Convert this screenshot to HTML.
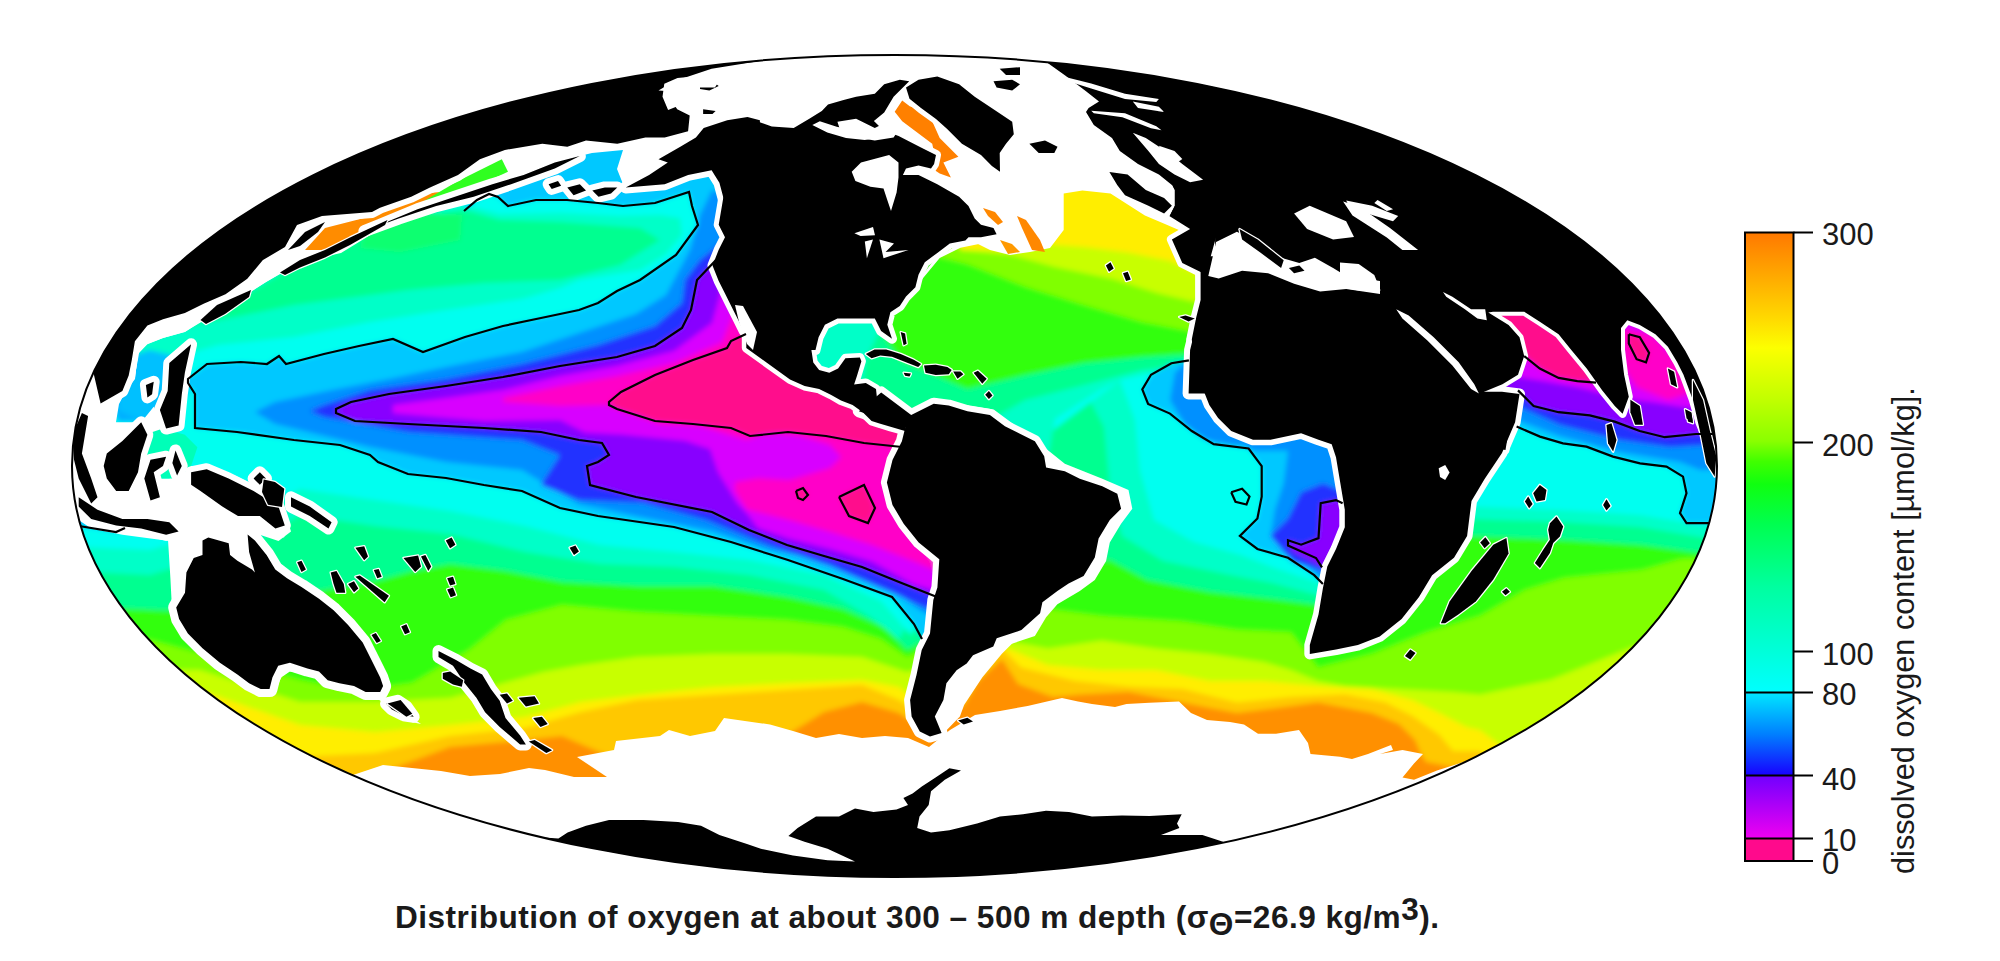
<!DOCTYPE html>
<html><head><meta charset="utf-8"><style>html,body{margin:0;padding:0;background:#fff;width:2000px;height:961px;overflow:hidden;position:relative}</style></head>
<body>
<svg width="2000" height="961" viewBox="0 0 2000 961" style="position:absolute;left:0;top:0">
<defs><clipPath id="ell"><ellipse cx="894.5" cy="466" rx="822.5" ry="411"/></clipPath>
<filter id="bl" x="-5%" y="-5%" width="110%" height="110%"><feGaussianBlur stdDeviation="2.5"/></filter></defs>
<g clip-path="url(#ell)">
<g filter="url(#bl)">
<ellipse cx="894.5" cy="466" rx="842.5" ry="431" fill="#ff9000"/>
<path fill="#ffc800" d="M40.0 790.0 L300.0 790.0 L375.0 775.0 L450.0 747.0 L525.0 740.0 L562.0 736.0 L618.0 760.0 L675.0 748.0 L731.0 742.0 L787.0 735.0 L824.0 712.0 L862.0 702.0 L899.0 713.0 L918.0 725.0 L964.0 705.0 L978.0 681.0 L1002.0 659.0 L1018.0 684.0 L1053.0 697.0 L1080.0 694.5 L1129.0 692.0 L1183.0 702.6 L1210.0 708.0 L1237.0 713.0 L1277.5 708.0 L1318.0 702.6 L1372.0 713.0 L1399.0 724.0 L1415.0 740.0 L1421.0 754.0 L1426.0 762.0 L1453.0 767.0 L1480.0 762.0 L1520.0 790.0 L1760.0 795.0 L1760.0 20.0 L40.0 20.0 Z"/>
<path fill="#ffee00" d="M40.0 740.0 L300.0 757.0 L375.0 753.0 L450.0 736.0 L525.0 728.0 L581.0 712.0 L637.0 700.0 L712.0 695.0 L787.0 690.0 L862.0 685.0 L899.0 700.0 L918.0 713.0 L980.5 654.0 L1002.0 648.6 L1021.0 667.5 L1075.0 681.0 L1129.0 686.4 L1183.0 689.0 L1237.0 702.6 L1291.0 697.0 L1345.0 694.5 L1385.5 702.6 L1412.5 716.0 L1439.5 735.0 L1453.0 751.0 L1480.0 751.0 L1520.0 790.0 L1760.0 795.0 L1760.0 20.0 L40.0 20.0 Z"/>
<path fill="#c8ff00" d="M40.0 690.0 L200.0 690.0 L300.0 725.0 L375.0 732.0 L450.0 725.0 L525.0 717.0 L581.0 702.0 L637.0 695.0 L712.0 687.0 L787.0 683.0 L862.0 680.0 L899.0 687.0 L918.0 702.0 L1002.0 646.0 L1048.0 665.0 L1102.0 670.0 L1156.0 670.0 L1210.0 681.0 L1264.0 681.0 L1318.0 686.0 L1372.0 689.0 L1412.5 700.0 L1439.5 713.0 L1466.5 727.0 L1480.0 730.0 L1520.0 760.0 L1760.0 760.0 L1760.0 20.0 L40.0 20.0 Z"/>
<path fill="#80ff00" d="M40.0 670.0 L200.0 670.0 L300.0 702.0 L375.0 702.0 L450.0 698.0 L543.0 672.0 L581.0 665.0 L637.0 657.0 L712.0 654.0 L787.0 654.0 L862.0 657.0 L907.0 672.0 L1005.0 640.5 L1048.0 648.6 L1102.0 640.5 L1156.0 648.6 L1210.0 654.0 L1264.0 662.0 L1291.0 670.0 L1318.0 681.0 L1345.0 686.0 L1399.0 689.0 L1453.0 692.0 L1480.0 694.5 L1550.0 680.0 L1650.0 640.0 L1760.0 590.0 L1760.0 20.0 L40.0 20.0 Z"/>
<path fill="#30ff10" d="M40.0 625.0 L150.0 640.0 L300.0 680.0 L356.0 691.0 L412.0 683.0 L469.0 650.0 L506.0 620.0 L562.0 605.0 L637.0 612.0 L712.0 616.0 L787.0 620.0 L843.0 627.0 L881.0 639.0 L907.0 657.0 L1021.0 605.4 L1102.0 616.0 L1183.0 621.6 L1237.0 629.7 L1291.0 632.4 L1318.0 667.5 L1372.0 654.0 L1426.0 632.4 L1480.0 616.0 L1525.0 590.0 L1564.0 578.0 L1642.0 570.0 L1681.0 559.0 L1760.0 555.0 L1760.0 20.0 L40.0 20.0 Z"/>
<path fill="#00ff90" d="M40.0 605.0 L200.0 612.0 L380.0 580.0 L412.0 571.0 L450.0 564.0 L506.0 571.0 L562.0 582.0 L637.0 586.0 L712.0 586.0 L787.0 597.0 L843.0 609.0 L884.0 627.0 L907.0 650.0 L1000.0 600.0 L1060.0 560.0 L1110.0 560.0 L1147.0 580.0 L1210.0 592.0 L1272.0 599.0 L1319.0 605.0 L1440.0 535.0 L1564.0 540.0 L1642.0 545.0 L1700.0 553.0 L1760.0 553.0 L1760.0 20.0 L40.0 20.0 Z"/>
<path fill="#00ffc8" d="M40.0 570.0 L150.0 575.0 L250.0 545.0 L300.0 515.0 L375.0 526.0 L450.0 534.0 L525.0 552.0 L600.0 564.0 L675.0 567.0 L749.0 575.0 L824.0 590.0 L869.0 616.0 L899.0 639.0 L1000.0 470.0 L1079.0 380.0 L1104.0 427.0 L1110.0 489.0 L1122.0 536.0 L1163.0 561.0 L1225.0 574.0 L1272.0 583.0 L1319.0 595.5 L1440.0 518.0 L1560.0 522.0 L1640.0 527.0 L1700.0 537.0 L1760.0 540.0 L1760.0 20.0 L40.0 20.0 Z"/>
<path fill="#00fff0" d="M40.0 545.0 L150.0 550.0 L250.0 520.0 L300.0 489.0 L375.0 500.0 L450.0 511.0 L525.0 526.0 L600.0 545.0 L675.0 552.0 L749.0 560.0 L824.0 575.0 L881.0 601.0 L911.0 635.0 L1000.0 470.0 L1120.0 380.0 L1135.0 420.0 L1140.0 470.0 L1154.0 520.0 L1194.0 542.0 L1241.0 555.0 L1272.0 567.0 L1319.0 583.0 L1440.0 505.0 L1560.0 510.0 L1640.0 515.0 L1700.0 525.0 L1760.0 528.0 L1760.0 20.0 L40.0 20.0 Z"/>
<path fill="#00ffc8" d="M130.0 350.0 L160.0 330.0 L200.0 312.0 L250.0 288.0 L300.0 258.0 L350.0 240.0 L400.0 215.0 L464.0 205.0 L500.0 214.0 L560.0 213.0 L620.0 216.0 L660.0 215.0 L680.0 218.0 L682.0 235.0 L665.0 255.0 L640.0 270.0 L579.0 280.0 L560.0 288.0 L522.0 299.0 L446.0 310.0 L370.0 322.0 L294.0 337.0 L218.0 345.0 L180.0 356.0 L140.0 375.0 Z"/>
<path fill="#00ff90" d="M200.0 320.0 L250.0 292.0 L300.0 262.0 L350.0 243.0 L400.0 220.0 L464.0 210.0 L500.0 220.0 L560.0 222.0 L640.0 228.0 L660.0 240.0 L620.0 265.0 L560.0 280.0 L484.0 283.0 L408.0 290.0 L294.0 305.0 L180.0 328.0 Z"/>
<path fill="#10ff70" d="M366.0 225.0 L420.0 212.0 L462.0 215.0 L460.0 240.0 L400.0 252.0 L360.0 248.0 Z"/>
<path fill="#00ffc8" d="M1240.0 340.0 L1171.0 369.0 L1142.0 375.0 L1120.0 380.0 L1100.0 390.0 L1055.0 419.0 L1046.0 470.0 L1030.0 490.0 L980.0 480.0 L900.0 440.0 L860.0 400.0 L800.0 350.0 L790.0 300.0 L900.0 150.0 L1240.0 150.0 Z"/>
<path fill="#00ff90" d="M1240.0 340.0 L1186.0 365.0 L1142.0 370.0 L1084.0 385.0 L1025.0 400.0 L990.0 420.0 L960.0 450.0 L900.0 440.0 L860.0 400.0 L866.0 360.0 L880.0 330.0 L880.0 300.0 L870.0 250.0 L900.0 150.0 L1240.0 150.0 Z"/>
<path fill="#30ff10" d="M1240.0 340.0 L1186.0 354.0 L1142.0 357.0 L1084.0 363.0 L1026.0 375.0 L967.0 389.0 L900.0 360.0 L880.0 330.0 L880.0 300.0 L870.0 250.0 L900.0 150.0 L1240.0 150.0 Z"/>
<path fill="#80ff00" d="M1240.0 331.0 L1189.0 331.0 L1142.0 322.0 L1084.0 305.0 L1026.0 287.0 L967.0 264.0 L930.0 255.0 L900.0 150.0 L1240.0 150.0 Z"/>
<path fill="#c8ff00" d="M1240.0 302.0 L1195.0 302.0 L1157.0 293.0 L1113.0 279.0 L1055.0 267.0 L1011.0 255.0 L960.0 250.0 L960.0 150.0 L1240.0 150.0 Z"/>
<path fill="#ffee00" d="M1240.0 276.0 L1200.0 276.0 L1171.0 261.0 L1128.0 252.5 L1084.0 247.0 L1043.0 244.0 L1000.0 250.0 L960.0 250.0 L960.0 150.0 L1240.0 150.0 Z"/>
<path fill="#00c8ff" d="M188.0 379.0 L207.0 364.0 L241.0 362.0 L267.0 364.0 L279.0 356.0 L286.0 364.0 L324.0 354.0 L359.0 346.0 L393.0 339.0 L423.0 352.0 L465.0 337.0 L503.0 326.0 L541.0 318.0 L579.0 310.0 L598.0 303.0 L617.0 291.0 L640.0 280.0 L676.0 255.0 L698.0 225.0 L692.0 206.0 L689.0 192.0 L655.0 203.0 L623.0 206.0 L598.0 203.0 L567.0 200.0 L536.0 200.0 L508.0 206.0 L498.0 197.0 L489.0 194.0 L477.0 200.0 L464.0 211.0 L470.0 185.0 L560.0 150.0 L720.0 140.0 L740.0 200.0 L740.0 300.0 L790.0 360.0 L860.0 400.0 L910.0 420.0 L920.0 470.0 L910.0 520.0 L935.0 560.0 L950.0 640.0 L922.0 639.0 L914.0 624.0 L892.0 597.0 L843.0 579.0 L788.0 560.0 L769.0 554.0 L731.0 542.0 L674.0 527.0 L598.0 516.0 L560.0 508.0 L522.0 491.0 L484.0 485.0 L446.0 478.0 L408.0 474.0 L378.0 462.0 L370.0 455.0 L340.0 445.0 L294.0 440.0 L237.0 432.0 L195.0 428.0 L195.0 394.0 L188.0 383.0 Z"/>
<path fill="#00c8ff" d="M1188.9 360.3 L1171.4 363.2 L1151.0 374.8 L1142.3 389.4 L1148.1 404.0 L1170.0 413.6 L1191.8 431.0 L1213.7 444.2 L1248.6 448.5 L1261.7 466.0 L1261.7 496.6 L1257.4 518.5 L1239.9 535.9 L1257.4 549.0 L1288.0 557.8 L1314.2 575.2 L1322.9 584.0 L1350.0 584.0 L1350.0 340.0 L1200.0 340.0 Z"/>
<path fill="#00c8ff" d="M1516.6 426.6 L1540.0 436.6 L1563.0 443.3 L1586.5 446.6 L1613.0 456.6 L1640.0 463.3 L1666.5 466.6 L1683.0 476.6 L1686.5 493.2 L1680.0 513.2 L1686.5 523.2 L1706.4 523.2 L1730.0 523.0 L1730.0 250.0 L1480.0 250.0 L1480.0 440.0 Z"/>
<path fill="#00c8ff" d="M40.0 480.0 L100.0 495.0 L125.0 500.0 L125.0 528.0 L116.0 532.0 L79.0 526.0 L40.0 526.0 Z"/>
<path fill="#00b0ff" d="M116.0 378.0 L135.0 372.0 L150.0 385.0 L154.0 410.0 L145.0 422.0 L118.0 422.0 L110.0 400.0 Z"/>
<path fill="#00c0ff" d="M118.0 360.0 L150.0 350.0 L175.0 356.0 L190.0 378.0 L188.0 395.0 L170.0 410.0 L140.0 420.0 L118.0 410.0 Z"/>
<path fill="#0090ff" d="M255.0 412.0 L275.0 402.0 L332.0 390.0 L389.0 379.0 L446.0 367.0 L522.0 352.0 L579.0 333.0 L636.0 314.0 L666.0 295.0 L674.0 280.0 L690.0 250.0 L700.0 215.0 L712.0 190.0 L740.0 200.0 L740.0 300.0 L790.0 360.0 L860.0 400.0 L910.0 420.0 L920.0 470.0 L910.0 520.0 L935.0 560.0 L950.0 640.0 L937.0 620.0 L918.0 609.0 L881.0 582.0 L824.0 560.0 L769.0 550.0 L712.0 531.0 L636.0 516.0 L579.0 504.0 L560.0 493.0 L522.0 470.0 L446.0 462.0 L370.0 447.0 L275.0 424.0 Z"/>
<path fill="#0090ff" d="M1178.7 365.5 L1191.8 387.4 L1200.6 413.6 L1222.4 435.4 L1253.0 450.7 L1288.0 450.7 L1283.6 483.5 L1274.9 509.7 L1270.5 535.9 L1292.3 553.4 L1322.9 579.6 L1366.6 579.6 L1366.6 431.1 L1301.1 422.3 L1235.5 422.3 L1213.7 365.5 Z"/>
<path fill="#0090ff" d="M1190.0 362.0 L1175.0 372.0 L1170.0 400.0 L1185.0 425.0 L1205.0 440.0 L1240.0 447.0 L1240.0 360.0 Z"/>
<path fill="#0090ff" d="M1512.0 418.0 L1560.0 436.0 L1620.0 452.0 L1680.0 462.0 L1700.0 470.0 L1730.0 470.0 L1730.0 250.0 L1480.0 250.0 L1480.0 430.0 Z"/>
<path fill="#0090ff" d="M40.0 495.0 L110.0 505.0 L116.0 522.0 L79.0 520.0 L40.0 520.0 Z"/>
<path fill="#2030ff" d="M310.0 411.0 L324.0 405.0 L370.0 390.0 L446.0 379.0 L522.0 364.0 L598.0 345.0 L655.0 326.0 L682.0 303.0 L685.0 280.0 L700.0 260.0 L725.0 240.0 L740.0 300.0 L790.0 360.0 L860.0 400.0 L910.0 420.0 L920.0 470.0 L910.0 520.0 L935.0 560.0 L950.0 640.0 L945.0 615.0 L924.0 607.0 L893.0 593.0 L830.0 566.0 L768.0 545.0 L706.0 520.0 L643.0 503.0 L579.0 500.0 L541.0 485.0 L560.0 455.0 L522.0 440.0 L408.0 432.0 L324.0 417.0 Z"/>
<path fill="#2030ff" d="M1270.5 535.9 L1288.0 518.4 L1301.1 492.2 L1322.9 483.5 L1344.8 492.2 L1366.6 492.2 L1366.6 579.6 L1322.9 570.9 L1292.3 562.1 Z"/>
<path fill="#2030ff" d="M1515.0 405.0 L1560.0 425.0 L1620.0 440.0 L1670.0 447.0 L1705.0 445.0 L1730.0 445.0 L1730.0 250.0 L1480.0 250.0 L1480.0 420.0 Z"/>
<path fill="#8800ff" d="M336.0 409.0 L351.0 402.0 L389.0 394.0 L446.0 386.0 L503.0 377.0 L560.0 366.0 L617.0 357.0 L655.0 346.0 L682.0 328.0 L691.0 310.0 L697.0 280.0 L716.0 260.0 L740.0 260.0 L790.0 360.0 L860.0 400.0 L910.0 420.0 L920.0 470.0 L910.0 520.0 L935.0 560.0 L950.0 640.0 L937.0 597.0 L899.0 582.0 L862.0 567.0 L824.0 556.0 L787.0 545.0 L749.0 530.0 L712.0 512.0 L636.0 497.0 L590.0 485.0 L587.0 466.0 L598.0 462.0 L609.0 455.0 L602.0 443.0 L579.0 440.0 L541.0 432.0 L484.0 428.0 L408.0 424.0 L355.0 421.0 L336.0 413.0 Z"/>
<path fill="#8800ff" d="M1342.6 503.2 L1336.0 500.1 L1320.7 503.2 L1318.5 538.1 L1301.1 544.7 L1288.0 540.3 L1292.3 551.2 L1309.8 560.0 L1327.3 568.7 L1366.6 568.7 L1366.6 503.2 Z"/>
<path fill="#8800ff" d="M1518.0 390.4 L1533.6 406.0 L1558.5 412.2 L1589.8 415.4 L1614.7 421.6 L1639.7 431.0 L1664.7 437.2 L1696.0 434.0 L1730.0 434.0 L1730.0 250.0 L1480.0 250.0 L1480.0 400.0 Z"/>
<path fill="#d800ff" d="M393.0 405.0 L446.0 398.0 L503.0 390.0 L560.0 376.0 L617.0 366.0 L674.0 351.0 L712.0 323.0 L720.0 295.0 L725.0 270.0 L740.0 280.0 L790.0 360.0 L860.0 400.0 L910.0 420.0 L920.0 470.0 L910.0 520.0 L935.0 560.0 L950.0 640.0 L940.0 592.0 L934.6 590.6 L913.8 584.4 L872.0 561.5 L830.5 549.0 L789.0 538.6 L758.0 528.0 L747.0 513.6 L737.0 503.0 L718.0 472.0 L710.0 449.0 L685.0 440.8 L622.0 434.6 L585.0 432.5 L560.0 420.0 L484.0 421.0 L393.0 413.0 Z"/>
<path fill="#d800ff" d="M1505.0 375.0 L1543.0 381.0 L1577.0 387.0 L1605.0 394.0 L1637.0 400.0 L1652.0 402.0 L1683.0 407.0 L1730.0 407.0 L1730.0 250.0 L1480.0 250.0 L1480.0 385.0 Z"/>
<path fill="#ff00c8" d="M503.0 398.0 L560.0 386.0 L617.0 376.0 L674.0 363.0 L722.0 342.0 L731.0 319.0 L735.0 300.0 L790.0 360.0 L860.0 400.0 L910.0 420.0 L920.0 470.0 L910.0 520.0 L935.0 560.0 L950.0 640.0 L937.0 575.0 L934.6 570.0 L913.8 561.5 L872.0 545.0 L830.5 532.0 L789.0 520.0 L747.0 509.5 L735.0 491.0 L735.0 482.0 L758.0 478.0 L789.0 480.0 L830.0 468.0 L841.0 457.0 L830.0 445.0 L800.0 436.0 L768.0 432.0 L747.0 440.0 L700.0 426.0 L660.0 424.0 L609.0 405.0 L560.0 406.0 L503.0 402.0 Z"/>
<path fill="#ff0a8c" d="M609.0 402.0 L621.0 392.0 L655.0 375.0 L693.0 360.0 L727.0 348.0 L731.0 341.0 L746.0 334.0 L790.0 360.0 L860.0 400.0 L910.0 420.0 L915.0 450.0 L902.0 447.0 L864.0 443.0 L826.0 436.0 L788.0 432.0 L750.0 436.0 L731.0 428.0 L693.0 424.0 L655.0 421.0 L617.0 409.0 L609.0 405.0 Z"/>
<path fill="#ff0a8c" d="M796.0 491.0 L803.0 488.0 L808.0 495.0 L803.0 500.0 L798.0 498.0 Z"/>
<path fill="#ff0a8c" d="M839.0 497.0 L864.0 485.0 L875.0 508.0 L868.0 523.0 L849.0 516.0 Z"/>
<path fill="#ff00c8" d="M1621.0 328.0 L1652.2 334.2 L1677.2 362.3 L1689.7 393.5 L1667.9 399.8 L1636.6 387.3 L1624.1 368.6 Z"/>
<path fill="#ff0a8c" d="M1489.9 312.4 L1524.2 311.7 L1539.8 321.7 L1558.6 334.2 L1571.1 349.8 L1586.7 368.6 L1599.2 387.3 L1596.0 382.6 L1577.3 381.1 L1558.6 377.9 L1539.8 368.6 L1524.2 356.1 L1514.9 349.8 L1508.6 331.1 Z"/>
<path fill="#ff0a8c" d="M1628.8 334.2 L1639.8 337.3 L1649.1 353.0 L1646.0 362.3 L1636.6 359.2 L1628.8 343.6 Z"/>
</g>
<g fill="#fff"><path d="M72.5 378.6 L91.2 375.5 L100.6 403.6 L116.2 422.3 L141.2 422.3 L153.7 406.7 L163.0 428.6 L150.5 447.3 L144.3 459.8 L153.7 478.5 L169.3 478.5 L191.1 466.0 L206.7 466.0 L234.8 475.4 L259.8 487.9 L284.8 509.8 L291.0 531.6 L278.5 541.0 L259.8 534.7 L216.1 537.9 L169.3 541.0 L122.4 534.7 L91.2 528.5 L72.5 516.0 Z"/>
<path d="M100.6 403.6 L122.4 391.1 L134.9 378.6 L138.0 353.7 L147.4 344.3 L163.0 338.0 L184.9 331.8 L200.5 322.4 L225.5 306.8 L247.3 294.3 L266.0 281.9 L287.9 269.4 L309.8 260.0 L309.8 166.3 L60.0 166.3 L60.0 384.9 Z"/>
<path d="M907.5 413.1 L933.7 398.1 L967.4 405.6 L993.7 409.4 L1008.6 420.6 L1046.1 448.7 L1064.8 463.7 L1102.3 478.7 L1128.5 489.9 L1132.3 508.7 L1121.1 523.7 L1109.8 542.4 L1106.1 561.1 L1094.8 579.9 L1079.8 591.1 L1057.4 604.2 L1046.1 617.3 L1034.9 636.1 L1001.1 647.3 L997.0 646.6 L1021.4 630.1 L1040.1 613.2 L1042.4 602.3 L1057.4 591.1 L1068.6 583.6 L1083.6 576.1 L1094.8 557.4 L1098.6 538.6 L1109.8 519.9 L1121.1 508.7 L1117.3 493.7 L1102.3 486.2 L1079.8 478.7 L1064.8 471.2 L1046.1 467.4 L1034.9 441.2 L1004.9 426.2 L967.4 411.2 L933.7 403.7 L911.2 415.0 Z"/>
<path d="M1057.4 594.8 L1055.9 600.1 L1021.0 634.9 L1001.9 653.7 L982.4 677.3 L964.1 705.0 L959.9 716.6 L946.8 730.1 L938.2 738.4 L926.2 737.2 L937.4 718.5 L944.9 684.8 L963.7 662.3 L993.7 639.8 L1040.1 613.2 Z"/>
<path d="M167.5 531.7 L193.7 525.8 L246.2 525.8 L287.0 528.7 L284.0 537.5 L260.7 531.7 L260.7 566.6 L237.4 560.8 L202.5 555.0 L187.9 572.5 L185.0 592.8 L176.2 607.4 L179.1 619.1 L171.9 607.4 L170.4 578.3 Z"/>
<path d="M180.6 627.8 L193.7 639.5 L219.9 657.0 L246.2 674.4 L263.6 693.4 L275.3 691.9 L281.1 677.4 L289.9 671.5 L319.0 675.9 L336.5 686.1 L359.8 694.8 L383.1 696.3 L400.6 709.4 L421.0 724.0 L406.4 721.1 L388.9 706.5 L371.5 694.8 L354.0 689.0 L324.8 681.7 L289.9 665.7 L275.3 665.7 L269.5 690.5 L257.8 693.4 L237.4 678.8 L202.5 654.0 Z"/>
<path d="M340.0 780.0 L350.0 776.0 L383.0 765.0 L412.0 768.0 L441.0 771.0 L470.0 776.0 L500.0 774.0 L529.0 768.0 L545.0 770.0 L574.0 777.0 L607.0 777.0 L577.0 757.0 L614.0 750.0 L616.0 741.0 L660.0 736.0 L669.0 730.0 L690.0 736.0 L715.0 731.0 L724.0 718.0 L770.0 724.5 L793.0 731.0 L816.0 738.0 L839.0 734.0 L862.0 738.0 L885.0 736.0 L908.0 738.0 L929.0 747.0 L950.0 730.0 L975.0 715.0 L1000.0 711.0 L1027.6 706.0 L1062.0 698.0 L1078.0 701.5 L1092.0 704.0 L1115.0 707.0 L1126.5 704.0 L1149.5 702.7 L1179.0 701.5 L1191.0 713.0 L1207.0 720.0 L1230.0 722.0 L1244.0 724.5 L1258.0 733.7 L1276.0 733.7 L1299.0 730.0 L1308.0 743.0 L1310.5 754.0 L1340.0 756.7 L1352.0 759.0 L1368.0 754.0 L1391.0 745.0 L1393.0 750.0 L1380.0 754.0 L1402.5 750.0 L1423.0 754.0 L1414.0 763.6 L1402.5 777.4 L1414.0 779.7 L1437.0 770.5 L1470.0 760.0 L1470.0 950.0 L340.0 950.0 Z"/>
<path d="M898.0 306.0 L919.0 283.0 L939.7 258.0 L960.5 247.8 L981.3 243.6 L1010.0 250.0 L1015.0 235.0 L996.0 229.0 L971.0 237.0 L935.6 258.0 L914.8 285.0 L890.0 306.0 Z"/>
<path d="M560.0 40.0 L1300.0 40.0 L1300.0 200.0 L1188.6 234.2 L1166.7 224.8 L1144.9 215.5 L1110.5 193.6 L1082.4 190.5 L1063.7 193.6 L1063.7 230.0 L1050.0 248.0 L1030.0 252.0 L1010.0 255.0 L990.0 250.0 L970.0 240.0 L950.0 235.0 L920.0 225.0 L860.0 200.0 L730.0 150.0 L700.0 165.0 L660.0 150.0 L620.0 145.0 L560.0 140.0 Z"/>
<path d="M72.0 440.0 L116.0 422.0 L119.0 404.0 L126.0 391.0 L135.0 379.0 L138.0 354.0 L147.0 344.0 L163.0 338.0 L185.0 332.0 L200.0 322.0 L225.0 307.0 L247.0 294.0 L266.0 282.0 L288.0 269.0 L310.0 260.0 L341.0 253.0 L372.0 234.0 L380.0 225.0 L424.0 212.0 L467.0 197.0 L483.0 187.0 L517.0 175.0 L555.0 162.0 L592.0 153.0 L623.0 150.0 L617.0 169.0 L623.0 184.0 L617.0 192.0 L655.0 187.0 L680.0 181.0 L700.0 175.0 L720.0 170.0 L720.0 40.0 L60.0 40.0 Z"/></g>
<g fill="#fff"><path fill="#00ffb8" d="M144.3 434.8 L163.0 428.6 L184.9 434.8 L197.4 447.3 L191.1 466.0 L178.6 478.5 L153.7 478.5 L144.3 459.8 Z"/>
<path fill="#ff8800" d="M983.0 208.0 L995.0 212.0 L1003.0 222.0 L998.0 225.0 L988.0 216.0 Z"/>
<path fill="#ff8800" d="M1017.0 216.0 L1026.0 220.0 L1040.0 240.0 L1045.0 252.0 L1032.0 250.0 L1022.0 228.0 Z"/>
<path fill="#ff9900" d="M1000.0 240.0 L1012.0 244.0 L1020.0 252.0 L1008.0 254.0 Z"/>
<path fill="#ff8c00" d="M305.0 250.0 L325.0 228.0 L372.0 216.0 L430.0 193.0 L440.0 192.0 L420.0 206.0 L385.0 222.0 L341.0 250.0 Z"/>
<path fill="#30ff20" d="M420.6 203.0 L458.0 181.1 L501.8 159.3 L508.0 171.8 L473.7 187.4 L442.4 199.9 Z"/>
<path fill="#ff8000" d="M894.7 111.8 L902.2 100.6 L909.7 106.2 L921.0 109.9 L932.2 121.2 L939.7 138.0 L958.4 156.8 L943.4 162.4 L950.9 177.4 L939.7 173.6 L928.4 166.1 L935.9 160.5 L932.2 143.7 L917.2 132.4 L902.2 121.2 Z"/></g>
<g fill="none" stroke="#fff" stroke-linejoin="round"><path stroke-width="12" d="M91.2 363.0 L100.6 403.6 L122.4 391.1 L128.7 375.5 L131.8 359.9 L134.9 341.2 L147.4 325.6 L163.0 319.3 L184.9 313.1 L203.6 303.7 L225.5 294.3 L247.3 278.7 L262.9 260.0 L262.9 166.3 L60.0 166.3 L60.0 363.0 Z"/>
<path stroke-width="12" d="M72.5 434.8 L81.9 413.0 L88.1 416.1 L85.0 434.8 L81.9 453.6 L91.2 478.5 L97.5 497.3 L91.2 503.5 L78.7 478.5 L74.0 459.8 Z"/>
<path stroke-width="12" d="M106.8 453.6 L122.4 441.1 L141.2 422.3 L147.4 434.8 L141.2 453.6 L138.0 472.3 L128.7 491.0 L116.2 491.0 L106.8 478.5 L103.7 466.0 Z"/>
<path stroke-width="12" d="M169.3 363.0 L191.1 344.3 L184.9 372.4 L181.8 394.2 L178.6 425.5 L166.1 428.6 L159.9 409.9 L167.7 391.1 Z"/>
<path stroke-width="12" d="M145.9 384.9 L153.7 381.8 L152.1 394.2 L147.4 397.4 Z"/>
<path stroke-width="12" d="M150.5 459.8 L166.1 456.7 L163.0 466.0 L153.7 472.3 L159.9 497.3 L150.5 500.4 L144.3 478.5 Z"/>
<path stroke-width="12" d="M175.5 450.4 L181.8 466.0 L177.1 475.4 L172.4 462.9 Z"/>
<path stroke-width="12" d="M78.7 497.3 L97.5 509.8 L122.4 519.1 L147.4 519.1 L169.3 522.2 L178.6 531.6 L166.1 534.7 L141.2 528.5 L116.2 525.4 L91.2 519.1 L78.7 506.6 Z"/>
<path stroke-width="12" d="M191.1 472.3 L206.7 469.2 L228.6 478.5 L253.6 491.0 L278.5 506.6 L284.8 525.4 L275.4 528.5 L259.8 516.0 L238.0 516.0 L222.3 506.6 L200.5 491.0 L191.1 484.8 Z"/>
<path stroke-width="12" d="M253.6 478.5 L259.8 472.3 L266.0 478.5 L259.8 484.8 Z"/>
<path stroke-width="12" d="M291.0 497.3 L309.8 506.6 L331.6 522.2 L328.5 528.5 L309.8 516.0 L291.0 506.6 Z"/>
<path stroke-width="12" d="M263.0 260.0 L285.0 247.0 L297.0 225.0 L322.0 216.0 L372.0 212.0 L380.0 207.7 L411.2 196.7 L430.0 187.4 L458.0 174.9 L479.9 159.3 L504.9 149.9 L542.3 143.7 L567.3 146.8 L586.0 140.5 L617.3 143.7 L645.4 137.4 L664.7 137.4 L688.1 131.2 L689.7 115.6 L677.2 109.3 L671.0 100.0 L680.3 92.1 L658.5 90.6 L674.1 81.2 L711.6 68.7 L759.9 60.9 L759.9 -12.4 L67.8 -12.4 L67.8 268.5 Z"/>
<path stroke-width="12" d="M380.0 224.8 L417.5 209.2 L454.9 196.7 L492.4 184.2 L523.6 174.9 L554.8 162.4 L579.8 156.1 L554.8 168.6 L511.1 184.2 L473.7 196.7 L436.2 206.1 L398.7 218.6 L364.4 231.1 Z"/>
<path stroke-width="12" d="M548.6 184.2 L558.0 181.1 L561.1 185.8 L551.7 188.9 Z"/>
<path stroke-width="12" d="M567.3 187.4 L579.8 184.2 L586.0 190.5 L573.6 195.2 Z"/>
<path stroke-width="12" d="M592.3 190.5 L604.8 187.4 L617.3 187.4 L611.0 193.6 L598.5 196.7 Z"/>
<path stroke-width="12" d="M703.7 128.0 L727.2 120.2 L747.5 117.1 L759.9 120.2 L759.9 199.9 L724.0 199.9 L719.4 182.7 L711.6 170.2 L688.1 174.9 L664.7 184.2 L625.7 187.4 L649.1 174.9 L667.8 162.4 L658.5 159.3 L680.3 146.8 L695.9 137.4 Z"/>
<path stroke-width="10" d="M731.2 120.2 L750.0 118.7 L771.8 126.5 L793.7 128.0 L809.3 118.7 L821.8 110.9 L828.0 104.6 L843.6 100.0 L856.1 96.8 L874.8 93.7 L884.2 84.3 L899.8 79.7 L909.2 81.2 L893.6 96.8 L884.2 112.4 L873.9 120.9 L883.6 130.5 L898.6 135.9 L921.0 147.4 L936.0 154.9 L934.1 164.0 L931.0 168.6 L918.5 165.5 L906.0 168.6 L902.9 174.9 L918.5 174.9 L937.3 184.2 L959.1 196.7 L968.5 206.1 L974.7 218.6 L981.0 224.8 L993.5 228.0 L996.6 234.2 L981.0 237.3 L968.5 237.3 L965.4 240.4 L949.8 243.6 L937.3 252.9 L924.8 262.3 L918.5 274.8 L915.4 287.3 L906.0 296.6 L899.8 306.0 L890.4 312.2 L887.3 324.7 L892.0 338.8 L881.1 331.0 L874.8 318.5 L856.1 318.5 L837.4 318.5 L824.9 324.7 L818.6 337.2 L815.5 350.0 L793.7 350.0 L753.1 343.5 L743.7 331.0 L737.5 318.5 L731.2 306.0 L725.0 293.5 L718.7 281.0 L712.5 265.4 L718.7 249.8 L725.0 237.3 L718.7 224.8 L721.9 206.1 L725.0 187.4 L718.7 178.0 L712.5 165.5 Z"/>
<path stroke-width="10" d="M906.0 87.5 L918.5 79.7 L937.3 76.5 L959.1 84.3 L974.7 96.8 L993.5 109.3 L1012.2 121.8 L1013.8 134.3 L1006.0 143.7 L999.7 153.0 L1000.0 171.8 L991.9 166.1 L981.0 154.9 L961.9 143.7 L946.9 128.7 L936.0 119.0 L921.0 108.1 L909.5 98.7 Z"/>
<path stroke-width="12" d="M700.0 84.3 L712.5 81.2 L718.7 85.9 L709.4 90.6 L700.0 89.0 Z"/>
<path stroke-width="12" d="M703.1 109.3 L715.6 110.9 L712.5 114.0 L703.1 114.0 Z"/>
<path stroke-width="12" d="M993.5 81.2 L1012.2 79.7 L1020.0 84.3 L1012.2 90.6 L996.6 87.5 Z"/>
<path stroke-width="12" d="M999.7 68.7 L1020.0 67.2 L1020.0 75.0 L1006.0 75.0 Z"/>
<path stroke-width="12" d="M1204.2 281.0 L1219.8 274.8 L1238.5 274.8 L1263.5 268.5 L1285.4 277.9 L1319.7 293.5 L1363.4 299.8 L1363.4 393.4 L1188.6 393.4 L1190.1 350.0 L1194.8 331.0 L1201.1 315.4 L1204.2 299.8 Z"/>
<path stroke-width="8" d="M1505.5 450.1 L1508.6 431.0 L1511.7 415.4 L1513.3 395.1 L1496.1 399.8 L1483.6 396.7 L1483.6 392.0 L1502.4 384.2 L1518.0 374.8 L1524.2 356.1 L1519.5 337.3 L1508.6 324.9 L1488.3 312.4 L1493.0 311.7 L1524.2 311.7 L1539.8 321.7 L1558.6 334.2 L1571.1 349.8 L1586.7 368.6 L1602.3 390.4 L1614.8 406.0 L1622.6 413.8 L1628.8 396.7 L1624.1 374.8 L1621.0 349.8 L1621.0 328.0 L1627.3 320.2 L1639.8 324.9 L1655.4 334.2 L1667.9 346.7 L1677.2 362.3 L1683.5 374.8 L1692.8 399.8 L1699.1 421.7 L1705.3 437.3 L1708.4 450.1 L1777.1 450.1 L1777.1 -37.3 L1215.1 -37.3 L1215.1 306.1 L1350.0 420.1 Z"/>
<path stroke-width="9" d="M746.3 285.4 L813.3 285.4 L814.8 329.1 L811.1 348.1 L813.3 362.6 L819.1 369.9 L829.3 372.8 L838.1 368.5 L845.4 358.3 L859.9 357.5 L861.4 361.2 L857.0 375.8 L854.1 384.5 L865.8 383.0 L876.0 388.9 L877.4 402.0 L880.3 410.7 L889.1 415.1 L894.9 416.6 L902.2 420.9 L906.6 423.8 L905.1 431.1 L900.7 429.7 L890.5 426.8 L880.3 423.8 L871.6 420.9 L862.8 412.2 L852.6 404.9 L841.0 400.5 L830.8 394.7 L819.1 388.9 L804.6 386.0 L790.0 379.4 L746.3 348.1 Z"/>
<path stroke-width="12" d="M911.2 415.0 L933.7 403.7 L948.7 405.6 L967.4 411.2 L989.9 415.0 L1004.9 426.2 L1019.9 433.7 L1034.9 441.2 L1044.2 456.2 L1046.1 467.4 L1064.8 471.2 L1079.8 478.7 L1102.3 486.2 L1117.3 493.7 L1121.1 508.7 L1109.8 519.9 L1098.6 538.6 L1094.8 557.4 L1083.6 576.1 L1068.6 583.6 L1057.4 591.1 L1042.4 602.3 L1040.1 613.2 L1021.4 630.1 L996.7 638.3 L993.3 646.6 L973.0 655.2 L966.7 663.4 L956.6 670.2 L946.4 683.3 L943.4 700.1 L934.8 716.6 L941.6 733.1 L930.0 736.5 L919.8 731.6 L911.6 716.6 L910.1 700.1 L916.5 675.0 L921.7 649.9 L930.0 633.4 L933.3 600.1 L937.4 587.4 L939.3 559.3 L918.7 542.4 L903.7 523.7 L892.5 504.9 L886.9 482.4 L892.5 460.0 L901.9 441.2 L905.6 426.2 L892.5 422.5 L881.2 418.7 L870.0 415.0 L858.8 411.2 L881.2 392.5 Z"/>
<path stroke-width="11" d="M1388.4 256.3 L1200.6 256.3 L1200.6 300.0 L1196.2 317.5 L1191.8 339.3 L1194.0 361.2 L1200.6 383.0 L1209.3 404.9 L1218.1 418.0 L1231.2 431.1 L1253.0 439.8 L1270.5 439.8 L1301.1 433.3 L1318.5 439.8 L1331.7 444.2 L1336.0 457.3 L1340.4 483.5 L1344.8 509.7 L1344.8 527.2 L1336.0 549.0 L1327.3 566.5 L1322.9 588.3 L1318.5 614.6 L1309.8 645.1 L1309.8 653.9 L1336.0 649.5 L1357.9 645.1 L1379.7 636.4 L1401.6 618.9 L1419.0 597.1 L1432.1 575.2 L1454.0 557.8 L1467.1 535.9 L1471.5 501.0 L1484.6 479.1 L1502.0 452.9 L1515.1 422.3 L1519.5 393.9 L1502.0 391.7 L1484.6 391.7 L1475.8 387.4 L1458.3 361.2 L1432.1 335.0 L1397.2 308.7 Z"/>
<path stroke-width="16" d="M202.5 540.4 L208.3 537.5 L228.7 543.3 L230.1 555.0 L237.4 560.8 L252.0 569.5 L254.9 572.5 L249.1 552.1 L247.6 534.6 L254.9 540.4 L266.6 555.0 L275.3 569.5 L287.0 578.3 L301.5 587.0 L319.0 598.7 L333.6 610.3 L348.1 624.9 L362.7 642.4 L371.5 659.9 L380.2 677.4 L383.1 686.1 L380.2 691.9 L365.6 691.9 L354.0 686.1 L339.4 683.2 L327.7 680.3 L319.0 671.5 L307.4 668.6 L289.9 662.8 L278.2 665.7 L272.4 677.4 L269.5 689.0 L260.7 689.0 L249.1 683.2 L237.4 674.4 L219.9 662.8 L202.5 648.2 L187.9 633.6 L179.1 619.1 L176.2 607.4 L185.0 592.8 L186.4 572.5 L193.7 557.9 L202.5 555.0 Z"/>
<path stroke-width="12" d="M386.0 703.6 L397.7 700.7 L406.4 706.5 L413.7 716.7 L403.5 715.2 L391.9 709.4 Z"/>
<path stroke-width="12" d="M438.5 651.1 L456.0 659.9 L470.5 668.6 L482.2 674.4 L490.9 689.0 L499.7 700.7 L505.5 718.1 L520.1 735.6 L525.9 744.4 L520.1 744.4 L499.7 726.9 L485.1 712.3 L476.4 697.7 L464.7 683.2 L453.0 665.7 L438.5 657.0 Z"/>
<path stroke-width="8" d="M520.0 840.0 L540.0 837.2 L558.4 838.4 L567.6 832.6 L586.0 825.7 L609.0 820.0 L643.5 820.0 L678.0 822.0 L701.0 825.7 L719.4 835.0 L747.0 844.0 L760.8 848.7 L793.0 855.6 L827.5 860.2 L855.0 861.4 L827.5 848.7 L804.5 841.8 L788.4 836.0 L797.6 828.0 L816.0 816.5 L839.0 816.5 L855.0 808.5 L873.5 812.0 L896.5 809.6 L908.0 805.0 L903.4 798.0 L912.6 793.5 L921.8 786.6 L935.6 777.4 L949.4 768.2 L961.0 770.5 L944.8 779.7 L931.0 791.2 L928.7 805.0 L919.5 816.5 L917.2 828.0 L931.0 832.6 L949.4 830.3 L977.0 823.4 L1000.0 816.5 L1023.0 814.2 L1046.0 810.8 L1069.0 812.0 L1092.0 816.5 L1122.0 815.4 L1149.5 816.0 L1181.7 814.2 L1177.0 823.4 L1179.4 828.0 L1161.0 835.0 L1202.4 835.0 L1223.0 841.8 L1223.0 950.0 L520.0 950.0 Z"/>
<path stroke-width="10" d="M1205.7 274.6 L1182.3 262.9 L1171.9 239.5 L1190.1 229.1 L1169.3 216.1 L1174.5 205.7 L1174.5 190.1 L1171.9 184.9 L1158.9 174.5 L1148.4 169.3 L1138.0 164.1 L1119.8 151.0 L1112.0 138.0 L1093.8 125.0 L1086.0 112.0 L1088.6 108.1 L1099.0 101.6 L1086.0 91.2 L1065.2 75.6 L1047.0 62.6 L1047.0 -18.0 L1450.2 -18.0 L1450.2 242.1 L1380.0 262.9 L1346.2 242.1 L1320.1 257.7 L1294.1 252.5 L1283.7 242.1 L1257.7 231.7 L1236.9 223.9 L1216.1 236.9 Z"/></g>
<g fill="#000"><path d="M91.2 363.0 L100.6 403.6 L122.4 391.1 L128.7 375.5 L131.8 359.9 L134.9 341.2 L147.4 325.6 L163.0 319.3 L184.9 313.1 L203.6 303.7 L225.5 294.3 L247.3 278.7 L262.9 260.0 L262.9 166.3 L60.0 166.3 L60.0 363.0 Z"/>
<path d="M72.5 434.8 L81.9 413.0 L88.1 416.1 L85.0 434.8 L81.9 453.6 L91.2 478.5 L97.5 497.3 L91.2 503.5 L78.7 478.5 L74.0 459.8 Z"/>
<path d="M106.8 453.6 L122.4 441.1 L141.2 422.3 L147.4 434.8 L141.2 453.6 L138.0 472.3 L128.7 491.0 L116.2 491.0 L106.8 478.5 L103.7 466.0 Z"/>
<path d="M169.3 363.0 L191.1 344.3 L184.9 372.4 L181.8 394.2 L178.6 425.5 L166.1 428.6 L159.9 409.9 L167.7 391.1 Z"/>
<path d="M145.9 384.9 L153.7 381.8 L152.1 394.2 L147.4 397.4 Z"/>
<path d="M150.5 459.8 L166.1 456.7 L163.0 466.0 L153.7 472.3 L159.9 497.3 L150.5 500.4 L144.3 478.5 Z"/>
<path d="M175.5 450.4 L181.8 466.0 L177.1 475.4 L172.4 462.9 Z"/>
<path d="M78.7 497.3 L97.5 509.8 L122.4 519.1 L147.4 519.1 L169.3 522.2 L178.6 531.6 L166.1 534.7 L141.2 528.5 L116.2 525.4 L91.2 519.1 L78.7 506.6 Z"/>
<path d="M191.1 472.3 L206.7 469.2 L228.6 478.5 L253.6 491.0 L278.5 506.6 L284.8 525.4 L275.4 528.5 L259.8 516.0 L238.0 516.0 L222.3 506.6 L200.5 491.0 L191.1 484.8 Z"/>
<path d="M253.6 478.5 L259.8 472.3 L266.0 478.5 L259.8 484.8 Z"/>
<path d="M291.0 497.3 L309.8 506.6 L331.6 522.2 L328.5 528.5 L309.8 516.0 L291.0 506.6 Z"/>
<path d="M263.0 260.0 L285.0 247.0 L297.0 225.0 L322.0 216.0 L372.0 212.0 L380.0 207.7 L411.2 196.7 L430.0 187.4 L458.0 174.9 L479.9 159.3 L504.9 149.9 L542.3 143.7 L567.3 146.8 L586.0 140.5 L617.3 143.7 L645.4 137.4 L664.7 137.4 L688.1 131.2 L689.7 115.6 L677.2 109.3 L671.0 100.0 L680.3 92.1 L658.5 90.6 L674.1 81.2 L711.6 68.7 L759.9 60.9 L759.9 -12.4 L67.8 -12.4 L67.8 268.5 Z"/>
<path d="M380.0 224.8 L417.5 209.2 L454.9 196.7 L492.4 184.2 L523.6 174.9 L554.8 162.4 L579.8 156.1 L554.8 168.6 L511.1 184.2 L473.7 196.7 L436.2 206.1 L398.7 218.6 L364.4 231.1 Z"/>
<path d="M548.6 184.2 L558.0 181.1 L561.1 185.8 L551.7 188.9 Z"/>
<path d="M567.3 187.4 L579.8 184.2 L586.0 190.5 L573.6 195.2 Z"/>
<path d="M592.3 190.5 L604.8 187.4 L617.3 187.4 L611.0 193.6 L598.5 196.7 Z"/>
<path d="M703.7 128.0 L727.2 120.2 L747.5 117.1 L759.9 120.2 L759.9 199.9 L724.0 199.9 L719.4 182.7 L711.6 170.2 L688.1 174.9 L664.7 184.2 L625.7 187.4 L649.1 174.9 L667.8 162.4 L658.5 159.3 L680.3 146.8 L695.9 137.4 Z"/>
<path d="M731.2 120.2 L750.0 118.7 L771.8 126.5 L793.7 128.0 L809.3 118.7 L821.8 110.9 L828.0 104.6 L843.6 100.0 L856.1 96.8 L874.8 93.7 L884.2 84.3 L899.8 79.7 L909.2 81.2 L893.6 96.8 L884.2 112.4 L873.9 120.9 L883.6 130.5 L898.6 135.9 L921.0 147.4 L936.0 154.9 L934.1 164.0 L931.0 168.6 L918.5 165.5 L906.0 168.6 L902.9 174.9 L918.5 174.9 L937.3 184.2 L959.1 196.7 L968.5 206.1 L974.7 218.6 L981.0 224.8 L993.5 228.0 L996.6 234.2 L981.0 237.3 L968.5 237.3 L965.4 240.4 L949.8 243.6 L937.3 252.9 L924.8 262.3 L918.5 274.8 L915.4 287.3 L906.0 296.6 L899.8 306.0 L890.4 312.2 L887.3 324.7 L892.0 338.8 L881.1 331.0 L874.8 318.5 L856.1 318.5 L837.4 318.5 L824.9 324.7 L818.6 337.2 L815.5 350.0 L793.7 350.0 L753.1 343.5 L743.7 331.0 L737.5 318.5 L731.2 306.0 L725.0 293.5 L718.7 281.0 L712.5 265.4 L718.7 249.8 L725.0 237.3 L718.7 224.8 L721.9 206.1 L725.0 187.4 L718.7 178.0 L712.5 165.5 Z"/>
<path d="M906.0 87.5 L918.5 79.7 L937.3 76.5 L959.1 84.3 L974.7 96.8 L993.5 109.3 L1012.2 121.8 L1013.8 134.3 L1006.0 143.7 L999.7 153.0 L1000.0 171.8 L991.9 166.1 L981.0 154.9 L961.9 143.7 L946.9 128.7 L936.0 119.0 L921.0 108.1 L909.5 98.7 Z"/>
<path d="M700.0 84.3 L712.5 81.2 L718.7 85.9 L709.4 90.6 L700.0 89.0 Z"/>
<path d="M703.1 109.3 L715.6 110.9 L712.5 114.0 L703.1 114.0 Z"/>
<path d="M993.5 81.2 L1012.2 79.7 L1020.0 84.3 L1012.2 90.6 L996.6 87.5 Z"/>
<path d="M999.7 68.7 L1020.0 67.2 L1020.0 75.0 L1006.0 75.0 Z"/>
<path d="M1204.2 281.0 L1219.8 274.8 L1238.5 274.8 L1263.5 268.5 L1285.4 277.9 L1319.7 293.5 L1363.4 299.8 L1363.4 393.4 L1188.6 393.4 L1190.1 350.0 L1194.8 331.0 L1201.1 315.4 L1204.2 299.8 Z"/>
<path d="M1505.5 450.1 L1508.6 431.0 L1511.7 415.4 L1513.3 395.1 L1496.1 399.8 L1483.6 396.7 L1483.6 392.0 L1502.4 384.2 L1518.0 374.8 L1524.2 356.1 L1519.5 337.3 L1508.6 324.9 L1488.3 312.4 L1493.0 311.7 L1524.2 311.7 L1539.8 321.7 L1558.6 334.2 L1571.1 349.8 L1586.7 368.6 L1602.3 390.4 L1614.8 406.0 L1622.6 413.8 L1628.8 396.7 L1624.1 374.8 L1621.0 349.8 L1621.0 328.0 L1627.3 320.2 L1639.8 324.9 L1655.4 334.2 L1667.9 346.7 L1677.2 362.3 L1683.5 374.8 L1692.8 399.8 L1699.1 421.7 L1705.3 437.3 L1708.4 450.1 L1777.1 450.1 L1777.1 -37.3 L1215.1 -37.3 L1215.1 306.1 L1350.0 420.1 Z"/>
<path d="M746.3 285.4 L813.3 285.4 L814.8 329.1 L811.1 348.1 L813.3 362.6 L819.1 369.9 L829.3 372.8 L838.1 368.5 L845.4 358.3 L859.9 357.5 L861.4 361.2 L857.0 375.8 L854.1 384.5 L865.8 383.0 L876.0 388.9 L877.4 402.0 L880.3 410.7 L889.1 415.1 L894.9 416.6 L902.2 420.9 L906.6 423.8 L905.1 431.1 L900.7 429.7 L890.5 426.8 L880.3 423.8 L871.6 420.9 L862.8 412.2 L852.6 404.9 L841.0 400.5 L830.8 394.7 L819.1 388.9 L804.6 386.0 L790.0 379.4 L746.3 348.1 Z"/>
<path d="M911.2 415.0 L933.7 403.7 L948.7 405.6 L967.4 411.2 L989.9 415.0 L1004.9 426.2 L1019.9 433.7 L1034.9 441.2 L1044.2 456.2 L1046.1 467.4 L1064.8 471.2 L1079.8 478.7 L1102.3 486.2 L1117.3 493.7 L1121.1 508.7 L1109.8 519.9 L1098.6 538.6 L1094.8 557.4 L1083.6 576.1 L1068.6 583.6 L1057.4 591.1 L1042.4 602.3 L1040.1 613.2 L1021.4 630.1 L996.7 638.3 L993.3 646.6 L973.0 655.2 L966.7 663.4 L956.6 670.2 L946.4 683.3 L943.4 700.1 L934.8 716.6 L941.6 733.1 L930.0 736.5 L919.8 731.6 L911.6 716.6 L910.1 700.1 L916.5 675.0 L921.7 649.9 L930.0 633.4 L933.3 600.1 L937.4 587.4 L939.3 559.3 L918.7 542.4 L903.7 523.7 L892.5 504.9 L886.9 482.4 L892.5 460.0 L901.9 441.2 L905.6 426.2 L892.5 422.5 L881.2 418.7 L870.0 415.0 L858.8 411.2 L881.2 392.5 Z"/>
<path d="M1388.4 256.3 L1200.6 256.3 L1200.6 300.0 L1196.2 317.5 L1191.8 339.3 L1194.0 361.2 L1200.6 383.0 L1209.3 404.9 L1218.1 418.0 L1231.2 431.1 L1253.0 439.8 L1270.5 439.8 L1301.1 433.3 L1318.5 439.8 L1331.7 444.2 L1336.0 457.3 L1340.4 483.5 L1344.8 509.7 L1344.8 527.2 L1336.0 549.0 L1327.3 566.5 L1322.9 588.3 L1318.5 614.6 L1309.8 645.1 L1309.8 653.9 L1336.0 649.5 L1357.9 645.1 L1379.7 636.4 L1401.6 618.9 L1419.0 597.1 L1432.1 575.2 L1454.0 557.8 L1467.1 535.9 L1471.5 501.0 L1484.6 479.1 L1502.0 452.9 L1515.1 422.3 L1519.5 393.9 L1502.0 391.7 L1484.6 391.7 L1475.8 387.4 L1458.3 361.2 L1432.1 335.0 L1397.2 308.7 Z"/>
<path d="M202.5 540.4 L208.3 537.5 L228.7 543.3 L230.1 555.0 L237.4 560.8 L252.0 569.5 L254.9 572.5 L249.1 552.1 L247.6 534.6 L254.9 540.4 L266.6 555.0 L275.3 569.5 L287.0 578.3 L301.5 587.0 L319.0 598.7 L333.6 610.3 L348.1 624.9 L362.7 642.4 L371.5 659.9 L380.2 677.4 L383.1 686.1 L380.2 691.9 L365.6 691.9 L354.0 686.1 L339.4 683.2 L327.7 680.3 L319.0 671.5 L307.4 668.6 L289.9 662.8 L278.2 665.7 L272.4 677.4 L269.5 689.0 L260.7 689.0 L249.1 683.2 L237.4 674.4 L219.9 662.8 L202.5 648.2 L187.9 633.6 L179.1 619.1 L176.2 607.4 L185.0 592.8 L186.4 572.5 L193.7 557.9 L202.5 555.0 Z"/>
<path d="M386.0 703.6 L397.7 700.7 L406.4 706.5 L413.7 716.7 L403.5 715.2 L391.9 709.4 Z"/>
<path d="M438.5 651.1 L456.0 659.9 L470.5 668.6 L482.2 674.4 L490.9 689.0 L499.7 700.7 L505.5 718.1 L520.1 735.6 L525.9 744.4 L520.1 744.4 L499.7 726.9 L485.1 712.3 L476.4 697.7 L464.7 683.2 L453.0 665.7 L438.5 657.0 Z"/>
<path d="M520.0 840.0 L540.0 837.2 L558.4 838.4 L567.6 832.6 L586.0 825.7 L609.0 820.0 L643.5 820.0 L678.0 822.0 L701.0 825.7 L719.4 835.0 L747.0 844.0 L760.8 848.7 L793.0 855.6 L827.5 860.2 L855.0 861.4 L827.5 848.7 L804.5 841.8 L788.4 836.0 L797.6 828.0 L816.0 816.5 L839.0 816.5 L855.0 808.5 L873.5 812.0 L896.5 809.6 L908.0 805.0 L903.4 798.0 L912.6 793.5 L921.8 786.6 L935.6 777.4 L949.4 768.2 L961.0 770.5 L944.8 779.7 L931.0 791.2 L928.7 805.0 L919.5 816.5 L917.2 828.0 L931.0 832.6 L949.4 830.3 L977.0 823.4 L1000.0 816.5 L1023.0 814.2 L1046.0 810.8 L1069.0 812.0 L1092.0 816.5 L1122.0 815.4 L1149.5 816.0 L1181.7 814.2 L1177.0 823.4 L1179.4 828.0 L1161.0 835.0 L1202.4 835.0 L1223.0 841.8 L1223.0 950.0 L520.0 950.0 Z"/>
<path d="M1205.7 274.6 L1182.3 262.9 L1171.9 239.5 L1190.1 229.1 L1169.3 216.1 L1174.5 205.7 L1174.5 190.1 L1171.9 184.9 L1158.9 174.5 L1148.4 169.3 L1138.0 164.1 L1119.8 151.0 L1112.0 138.0 L1093.8 125.0 L1086.0 112.0 L1088.6 108.1 L1099.0 101.6 L1086.0 91.2 L1065.2 75.6 L1047.0 62.6 L1047.0 -18.0 L1450.2 -18.0 L1450.2 242.1 L1380.0 262.9 L1346.2 242.1 L1320.1 257.7 L1294.1 252.5 L1283.7 242.1 L1257.7 231.7 L1236.9 223.9 L1216.1 236.9 Z"/></g>
<g fill="#fff"><path d="M837.4 121.8 L856.1 118.7 L874.8 128.0 L887.3 121.8 L899.8 128.0 L893.6 137.4 L874.8 140.5 L856.1 137.4 L840.5 131.2 Z"/>
<path d="M1396.2 309.2 L1408.7 315.5 L1433.7 337.3 L1458.7 362.3 L1474.3 384.2 L1478.9 393.5 L1471.1 388.9 L1452.4 365.4 L1427.4 340.5 L1402.4 318.6 Z"/>
<path d="M1443.0 292.1 L1452.4 296.8 L1471.1 309.2 L1485.2 309.2 L1486.8 320.2 L1477.4 318.6 L1464.9 309.2 L1446.2 296.8 Z"/>
<path d="M1340.0 262.4 L1358.7 264.0 L1374.3 274.9 L1380.6 290.5 L1358.7 290.5 L1340.0 287.4 Z"/>
<path d="M1343.1 201.5 L1358.7 206.2 L1390.0 228.1 L1418.1 249.9 L1402.4 249.9 L1386.8 237.4 L1352.5 215.6 Z"/>
<path d="M1377.5 200.0 L1393.1 209.3 L1386.8 210.9 L1374.3 203.1 Z"/>
<path d="M1438.7 468.2 L1445.2 465.1 L1449.6 472.6 L1445.2 480.0 L1440.0 476.9 Z"/>
<path d="M854.4 233.2 L873.0 227.0 L875.0 235.3 L860.6 236.0 Z"/>
<path d="M864.8 241.6 L873.0 239.5 L866.9 258.2 Z"/>
<path d="M879.4 239.5 L894.0 243.6 L885.6 252.0 L908.5 249.9 L883.5 258.2 Z"/>
<path d="M735.0 305.0 L743.0 306.0 L757.0 332.0 L753.0 350.0 L747.0 344.0 L739.0 322.0 Z"/>
<path d="M851.7 171.7 L861.0 162.4 L876.0 158.6 L889.1 154.9 L898.5 162.4 L898.5 177.4 L896.6 192.4 L891.0 211.1 L887.2 199.8 L883.5 188.6 L870.4 186.7 L855.4 181.1 Z"/>
<path d="M812.3 124.9 L827.3 132.4 L846.0 138.0 L864.8 139.9 L876.0 138.0 L874.1 132.4 L855.4 130.5 L836.7 126.8 L819.8 121.2 Z"/>
<path d="M664.3 83.7 L677.5 78.1 L696.2 76.2 L718.7 81.8 L714.9 87.5 L696.2 87.5 L681.2 95.0 L677.5 106.2 L668.1 109.9 L662.5 96.8 Z"/>
<path d="M640.0 147.4 L651.2 143.7 L677.5 138.0 L685.0 134.3 L668.1 139.9 L651.2 149.3 L640.0 154.9 Z"/>
<path d="M1132.8 132.8 L1145.8 138.0 L1169.3 153.6 L1182.3 164.1 L1203.1 179.7 L1190.1 182.3 L1174.5 174.5 L1158.9 164.1 L1148.4 151.0 Z"/>
<path d="M1065.2 76.9 L1091.2 83.4 L1125.0 93.8 L1158.9 99.0 L1156.3 102.1 L1125.0 99.0 L1091.2 88.6 L1066.5 80.8 Z"/>
<path d="M1091.2 110.7 L1125.0 113.3 L1156.3 126.3 L1161.5 130.2 L1151.0 128.2 L1122.4 117.2 L1093.8 113.3 Z"/>
<path d="M1132.8 101.6 L1158.9 106.8 L1164.1 112.0 L1138.0 108.1 Z"/>
<path d="M1158.9 145.8 L1174.5 151.0 L1182.3 158.9 L1177.1 162.8 L1164.1 156.3 Z"/>
<path d="M1208.3 275.9 L1216.1 242.1 L1236.9 231.7 L1257.7 242.1 L1281.1 257.7 L1299.3 262.9 L1314.9 257.7 L1333.1 268.1 L1346.2 275.9 L1380.0 281.1 L1380.0 294.1 L1346.2 288.9 L1320.1 291.5 L1294.1 283.7 L1268.1 273.3 L1242.1 270.7 L1218.7 278.5 Z"/>
<path d="M1294.1 213.5 L1309.7 205.7 L1346.2 221.3 L1354.0 236.9 L1333.1 239.5 L1307.1 229.1 Z"/>
<path d="M1346.2 200.5 L1372.2 205.7 L1398.2 216.1 L1393.0 221.3 L1367.0 213.5 L1348.8 205.7 Z"/>
<path d="M1171.9 184.9 L1174.5 190.1 L1174.5 205.7 L1169.3 216.1 L1158.9 213.5 L1164.1 195.3 Z"/></g>
<g fill="none" stroke="#fff" stroke-width="2.5" stroke-linejoin="round"><path d="M1029.4 143.7 L1045.0 140.5 L1057.5 146.8 L1054.3 153.0 L1038.7 153.0 Z"/>
<path d="M1105.9 265.4 L1110.5 262.3 L1113.7 268.5 L1109.0 271.7 Z"/>
<path d="M1123.0 273.2 L1127.7 271.7 L1130.8 279.5 L1126.1 281.0 Z"/>
<path d="M1179.2 316.9 L1185.5 315.4 L1194.8 318.5 L1188.6 321.6 Z"/>
<path d="M1630.4 399.8 L1639.8 406.0 L1642.9 424.8 L1635.1 424.8 L1630.4 412.3 Z"/>
<path d="M1667.9 368.6 L1674.1 371.7 L1677.2 387.3 L1671.0 384.2 Z"/>
<path d="M1685.0 409.2 L1691.3 412.3 L1692.8 421.7 L1686.6 418.5 Z"/>
<path d="M865.8 353.9 L874.5 349.5 L886.2 349.5 L900.7 353.9 L913.8 359.7 L921.1 364.1 L918.2 367.0 L906.6 362.6 L892.0 356.8 L880.3 355.4 L871.6 358.3 Z"/>
<path d="M924.0 365.6 L935.7 364.8 L947.4 367.0 L951.7 369.9 L948.8 374.3 L935.7 375.0 L925.5 372.8 Z"/>
<path d="M903.6 372.8 L910.9 373.6 L909.5 376.5 L905.1 375.8 Z"/>
<path d="M953.2 371.4 L960.5 371.4 L963.4 374.3 L957.5 378.7 Z"/>
<path d="M973.6 372.8 L977.9 370.7 L986.7 378.7 L982.3 383.8 Z"/>
<path d="M985.2 394.7 L988.9 391.1 L992.5 395.4 L988.9 399.1 Z"/>
<path d="M900.7 332.1 L905.1 333.5 L906.6 343.7 L903.6 345.2 Z"/>
<path d="M958.1 720.4 L967.4 717.8 L973.0 721.5 L963.7 724.5 Z"/>
<path d="M1440.9 623.3 L1449.6 601.5 L1471.5 570.9 L1493.3 544.7 L1506.4 538.1 L1508.6 553.4 L1493.3 579.6 L1475.8 601.5 L1458.3 614.6 L1445.2 623.3 Z"/>
<path d="M1480.2 542.5 L1485.4 537.2 L1489.8 543.3 L1484.6 548.2 Z"/>
<path d="M1405.0 656.1 L1410.3 649.5 L1415.5 653.0 L1410.3 659.6 Z"/>
<path d="M1502.0 591.8 L1506.4 588.3 L1509.9 591.8 L1505.5 595.3 Z"/>
<path d="M442.8 673.0 L450.1 671.5 L463.2 680.3 L461.8 686.7 L453.0 684.6 L442.8 678.8 Z"/>
<path d="M499.7 694.8 L507.0 693.4 L512.8 700.7 L507.0 703.6 Z"/>
<path d="M518.6 697.7 L534.6 696.3 L539.0 703.6 L525.9 706.5 Z"/>
<path d="M533.2 718.1 L541.9 716.7 L547.7 724.0 L540.5 726.9 Z"/>
<path d="M528.8 741.5 L534.6 740.0 L552.1 750.2 L546.3 753.1 Z"/>
<path d="M297.2 562.3 L301.5 560.8 L305.9 569.5 L301.5 571.9 Z"/>
<path d="M330.7 572.5 L336.5 571.0 L343.8 584.1 L345.2 592.8 L336.5 592.8 L333.6 584.1 Z"/>
<path d="M348.1 584.1 L354.0 581.2 L358.3 588.5 L354.0 592.3 Z"/>
<path d="M355.4 576.8 L359.8 575.4 L388.9 595.8 L384.6 602.2 Z"/>
<path d="M355.4 547.7 L364.2 546.2 L368.0 556.4 L364.2 560.2 Z"/>
<path d="M373.8 570.1 L378.7 569.0 L381.7 576.8 L377.3 578.3 Z"/>
<path d="M403.5 557.9 L418.1 555.5 L421.0 566.6 L415.2 571.9 Z"/>
<path d="M421.0 556.4 L425.4 555.0 L431.2 566.6 L428.3 571.0 Z"/>
<path d="M445.8 540.4 L451.6 537.5 L455.4 544.8 L450.1 548.3 Z"/>
<path d="M447.2 578.3 L453.0 576.8 L455.4 584.1 L450.1 585.6 Z"/>
<path d="M447.2 589.4 L453.0 587.6 L456.0 595.2 L450.7 597.2 Z"/>
<path d="M401.2 626.4 L406.4 624.3 L409.9 632.2 L405.0 634.2 Z"/>
<path d="M371.5 635.1 L375.8 633.1 L380.8 640.9 L376.7 643.0 Z"/>
<path d="M569.6 547.7 L575.4 545.6 L578.9 551.5 L574.0 555.0 Z"/>
<path d="M387.5 703.6 L400.6 700.1 L412.3 713.8 L406.4 716.7 Z"/>
<path d="M1533.2 493.2 L1539.9 484.9 L1546.5 489.9 L1544.9 499.9 L1536.6 501.5 Z"/>
<path d="M1524.9 501.5 L1528.2 496.5 L1532.6 503.9 L1529.2 508.2 Z"/>
<path d="M1603.1 504.9 L1606.5 499.2 L1610.5 505.9 L1606.5 510.5 Z"/>
<path d="M1549.9 523.2 L1556.5 516.5 L1563.2 526.5 L1559.9 536.5 L1553.2 543.1 L1549.9 553.1 L1539.9 568.1 L1534.9 563.1 L1543.2 549.8 L1549.9 539.8 L1548.2 529.8 Z"/>
<path d="M1606.5 424.9 L1611.5 423.3 L1616.5 439.9 L1613.1 451.6 L1608.1 443.3 Z"/>
<path d="M1693.0 380.0 L1703.0 400.0 L1709.7 429.9 L1716.3 456.6 L1714.7 476.6 L1706.4 463.2 L1699.7 429.9 L1693.0 400.0 Z"/>
<path d="M1686.4 410.0 L1691.4 413.3 L1693.0 423.3 L1688.0 421.6 Z"/>
<path d="M200.5 320.0 L217.0 305.0 L251.0 290.0 L249.0 297.0 L225.0 314.0 L206.0 324.0 Z"/>
<path d="M288.0 250.0 L305.0 232.0 L325.0 222.0 L318.0 232.0 L300.0 246.0 Z"/>
<path d="M263.7 479.5 L275.0 482.0 L284.3 488.7 L282.0 507.0 L268.0 504.7 L262.0 492.0 Z"/>
<path d="M280.0 272.5 L300.0 260.0 L325.0 250.0 L350.0 237.5 L387.5 220.0 L385.0 225.0 L350.0 245.0 L325.0 257.5 L300.0 267.5 L285.0 275.0 Z"/>
<path d="M1109.4 171.9 L1127.6 174.5 L1145.8 190.1 L1164.1 197.9 L1171.9 205.7 L1164.1 213.5 L1148.4 205.7 L1125.0 195.3 L1117.2 184.9 Z"/>
<path d="M1239.5 229.1 L1257.7 239.5 L1283.7 260.3 L1281.1 268.1 L1260.3 252.5 L1242.1 239.5 Z"/>
<path d="M1288.9 268.1 L1299.3 265.5 L1304.5 270.7 L1294.1 273.3 Z"/></g>
<g fill="#000"><path d="M1029.4 143.7 L1045.0 140.5 L1057.5 146.8 L1054.3 153.0 L1038.7 153.0 Z"/>
<path d="M1105.9 265.4 L1110.5 262.3 L1113.7 268.5 L1109.0 271.7 Z"/>
<path d="M1123.0 273.2 L1127.7 271.7 L1130.8 279.5 L1126.1 281.0 Z"/>
<path d="M1179.2 316.9 L1185.5 315.4 L1194.8 318.5 L1188.6 321.6 Z"/>
<path d="M1630.4 399.8 L1639.8 406.0 L1642.9 424.8 L1635.1 424.8 L1630.4 412.3 Z"/>
<path d="M1667.9 368.6 L1674.1 371.7 L1677.2 387.3 L1671.0 384.2 Z"/>
<path d="M1685.0 409.2 L1691.3 412.3 L1692.8 421.7 L1686.6 418.5 Z"/>
<path d="M865.8 353.9 L874.5 349.5 L886.2 349.5 L900.7 353.9 L913.8 359.7 L921.1 364.1 L918.2 367.0 L906.6 362.6 L892.0 356.8 L880.3 355.4 L871.6 358.3 Z"/>
<path d="M924.0 365.6 L935.7 364.8 L947.4 367.0 L951.7 369.9 L948.8 374.3 L935.7 375.0 L925.5 372.8 Z"/>
<path d="M903.6 372.8 L910.9 373.6 L909.5 376.5 L905.1 375.8 Z"/>
<path d="M953.2 371.4 L960.5 371.4 L963.4 374.3 L957.5 378.7 Z"/>
<path d="M973.6 372.8 L977.9 370.7 L986.7 378.7 L982.3 383.8 Z"/>
<path d="M985.2 394.7 L988.9 391.1 L992.5 395.4 L988.9 399.1 Z"/>
<path d="M900.7 332.1 L905.1 333.5 L906.6 343.7 L903.6 345.2 Z"/>
<path d="M958.1 720.4 L967.4 717.8 L973.0 721.5 L963.7 724.5 Z"/>
<path d="M1440.9 623.3 L1449.6 601.5 L1471.5 570.9 L1493.3 544.7 L1506.4 538.1 L1508.6 553.4 L1493.3 579.6 L1475.8 601.5 L1458.3 614.6 L1445.2 623.3 Z"/>
<path d="M1480.2 542.5 L1485.4 537.2 L1489.8 543.3 L1484.6 548.2 Z"/>
<path d="M1405.0 656.1 L1410.3 649.5 L1415.5 653.0 L1410.3 659.6 Z"/>
<path d="M1502.0 591.8 L1506.4 588.3 L1509.9 591.8 L1505.5 595.3 Z"/>
<path d="M442.8 673.0 L450.1 671.5 L463.2 680.3 L461.8 686.7 L453.0 684.6 L442.8 678.8 Z"/>
<path d="M499.7 694.8 L507.0 693.4 L512.8 700.7 L507.0 703.6 Z"/>
<path d="M518.6 697.7 L534.6 696.3 L539.0 703.6 L525.9 706.5 Z"/>
<path d="M533.2 718.1 L541.9 716.7 L547.7 724.0 L540.5 726.9 Z"/>
<path d="M528.8 741.5 L534.6 740.0 L552.1 750.2 L546.3 753.1 Z"/>
<path d="M297.2 562.3 L301.5 560.8 L305.9 569.5 L301.5 571.9 Z"/>
<path d="M330.7 572.5 L336.5 571.0 L343.8 584.1 L345.2 592.8 L336.5 592.8 L333.6 584.1 Z"/>
<path d="M348.1 584.1 L354.0 581.2 L358.3 588.5 L354.0 592.3 Z"/>
<path d="M355.4 576.8 L359.8 575.4 L388.9 595.8 L384.6 602.2 Z"/>
<path d="M355.4 547.7 L364.2 546.2 L368.0 556.4 L364.2 560.2 Z"/>
<path d="M373.8 570.1 L378.7 569.0 L381.7 576.8 L377.3 578.3 Z"/>
<path d="M403.5 557.9 L418.1 555.5 L421.0 566.6 L415.2 571.9 Z"/>
<path d="M421.0 556.4 L425.4 555.0 L431.2 566.6 L428.3 571.0 Z"/>
<path d="M445.8 540.4 L451.6 537.5 L455.4 544.8 L450.1 548.3 Z"/>
<path d="M447.2 578.3 L453.0 576.8 L455.4 584.1 L450.1 585.6 Z"/>
<path d="M447.2 589.4 L453.0 587.6 L456.0 595.2 L450.7 597.2 Z"/>
<path d="M401.2 626.4 L406.4 624.3 L409.9 632.2 L405.0 634.2 Z"/>
<path d="M371.5 635.1 L375.8 633.1 L380.8 640.9 L376.7 643.0 Z"/>
<path d="M569.6 547.7 L575.4 545.6 L578.9 551.5 L574.0 555.0 Z"/>
<path d="M387.5 703.6 L400.6 700.1 L412.3 713.8 L406.4 716.7 Z"/>
<path d="M1533.2 493.2 L1539.9 484.9 L1546.5 489.9 L1544.9 499.9 L1536.6 501.5 Z"/>
<path d="M1524.9 501.5 L1528.2 496.5 L1532.6 503.9 L1529.2 508.2 Z"/>
<path d="M1603.1 504.9 L1606.5 499.2 L1610.5 505.9 L1606.5 510.5 Z"/>
<path d="M1549.9 523.2 L1556.5 516.5 L1563.2 526.5 L1559.9 536.5 L1553.2 543.1 L1549.9 553.1 L1539.9 568.1 L1534.9 563.1 L1543.2 549.8 L1549.9 539.8 L1548.2 529.8 Z"/>
<path d="M1606.5 424.9 L1611.5 423.3 L1616.5 439.9 L1613.1 451.6 L1608.1 443.3 Z"/>
<path d="M1693.0 380.0 L1703.0 400.0 L1709.7 429.9 L1716.3 456.6 L1714.7 476.6 L1706.4 463.2 L1699.7 429.9 L1693.0 400.0 Z"/>
<path d="M1686.4 410.0 L1691.4 413.3 L1693.0 423.3 L1688.0 421.6 Z"/>
<path d="M200.5 320.0 L217.0 305.0 L251.0 290.0 L249.0 297.0 L225.0 314.0 L206.0 324.0 Z"/>
<path d="M288.0 250.0 L305.0 232.0 L325.0 222.0 L318.0 232.0 L300.0 246.0 Z"/>
<path d="M263.7 479.5 L275.0 482.0 L284.3 488.7 L282.0 507.0 L268.0 504.7 L262.0 492.0 Z"/>
<path d="M280.0 272.5 L300.0 260.0 L325.0 250.0 L350.0 237.5 L387.5 220.0 L385.0 225.0 L350.0 245.0 L325.0 257.5 L300.0 267.5 L285.0 275.0 Z"/>
<path d="M1109.4 171.9 L1127.6 174.5 L1145.8 190.1 L1164.1 197.9 L1171.9 205.7 L1164.1 213.5 L1148.4 205.7 L1125.0 195.3 L1117.2 184.9 Z"/>
<path d="M1239.5 229.1 L1257.7 239.5 L1283.7 260.3 L1281.1 268.1 L1260.3 252.5 L1242.1 239.5 Z"/>
<path d="M1288.9 268.1 L1299.3 265.5 L1304.5 270.7 L1294.1 273.3 Z"/></g>
<path fill="none" stroke="#000" stroke-width="2.2" d="M464.0 211.0 L477.0 200.0 L489.0 194.0 L498.0 197.0 L508.0 206.0 L536.0 200.0 L567.0 200.0 L598.0 203.0 L623.0 206.0 L655.0 203.0 L689.0 192.0 L692.0 206.0 L698.0 225.0 L676.0 255.0 L640.0 280.0 L617.0 291.0 L598.0 303.0 L579.0 310.0 L541.0 318.0 L503.0 326.0 L465.0 337.0 L423.0 352.0 L393.0 339.0 L359.0 346.0 L324.0 354.0 L286.0 364.0 L279.0 356.0 L267.0 364.0 L241.0 362.0 L207.0 364.0 L188.0 379.0 L188.0 383.0 L195.0 394.0 L195.0 428.0 L237.0 432.0 L294.0 440.0 L340.0 445.0 L370.0 455.0 L378.0 462.0 L408.0 474.0 L446.0 478.0 L484.0 485.0 L522.0 491.0 L560.0 508.0 L598.0 516.0 L674.0 527.0 L731.0 542.0 L769.0 554.0 L788.0 560.0 L843.0 579.0 L892.0 597.0 L914.0 624.0 L922.0 639.0"/>
<path fill="none" stroke="#000" stroke-width="2.2" d="M716.0 260.0 L697.0 280.0 L691.0 310.0 L682.0 328.0 L655.0 346.0 L617.0 357.0 L560.0 366.0 L503.0 377.0 L446.0 386.0 L389.0 394.0 L351.0 402.0 L336.0 409.0 L336.0 413.0 L355.0 421.0 L408.0 424.0 L484.0 428.0 L541.0 432.0 L579.0 440.0 L602.0 443.0 L609.0 455.0 L598.0 462.0 L587.0 466.0 L590.0 485.0 L636.0 497.0 L712.0 512.0 L749.0 530.0 L787.0 545.0 L824.0 556.0 L862.0 567.0 L899.0 582.0 L937.0 597.0"/>
<path fill="none" stroke="#000" stroke-width="2.2" d="M746.0 334.0 L731.0 341.0 L727.0 348.0 L693.0 360.0 L655.0 375.0 L621.0 392.0 L609.0 402.0 L609.0 405.0 L617.0 409.0 L655.0 421.0 L693.0 424.0 L731.0 428.0 L750.0 436.0 L788.0 432.0 L826.0 436.0 L864.0 443.0 L902.0 447.0"/>
<path fill="none" stroke="#000" stroke-width="2.2" d="M796.0 491.0 L803.0 488.0 L808.0 495.0 L803.0 500.0 L798.0 498.0 L796.0 491.0"/>
<path fill="none" stroke="#000" stroke-width="2.2" d="M839.0 497.0 L864.0 485.0 L875.0 508.0 L868.0 523.0 L849.0 516.0 L839.0 497.0"/>
<path fill="none" stroke="#000" stroke-width="2.2" d="M1188.9 360.3 L1171.4 363.2 L1151.0 374.8 L1142.3 389.4 L1148.1 404.0 L1170.0 413.6 L1191.8 431.0 L1213.7 444.2 L1248.6 448.5 L1261.7 466.0 L1261.7 496.6 L1257.4 518.5 L1239.9 535.9 L1257.4 549.0 L1288.0 557.8 L1314.2 575.2 L1322.9 584.0"/>
<path fill="none" stroke="#000" stroke-width="2.2" d="M1342.6 503.2 L1336.0 500.1 L1320.7 503.2 L1318.5 538.1 L1301.1 544.7 L1288.0 540.3 L1288.0 545.5 L1316.0 558.0 L1322.0 567.4"/>
<path fill="none" stroke="#000" stroke-width="2.2" d="M1231.2 492.2 L1242.1 488.7 L1249.5 496.6 L1246.5 504.5 L1235.5 501.8 L1231.2 492.2"/>
<path fill="none" stroke="#000" stroke-width="2.2" d="M1516.6 426.6 L1540.0 436.6 L1563.0 443.3 L1586.5 446.6 L1613.0 456.6 L1640.0 463.3 L1666.5 466.6 L1683.0 476.6 L1686.5 493.2 L1680.0 513.2 L1686.5 523.2 L1706.4 523.2 L1730.0 523.0"/>
<path fill="none" stroke="#000" stroke-width="2.2" d="M1518.0 390.4 L1533.6 406.0 L1558.5 412.2 L1589.8 415.4 L1614.7 421.6 L1639.7 431.0 L1664.7 437.2 L1696.0 434.0 L1730.0 434.0"/>
<path fill="none" stroke="#000" stroke-width="2.2" d="M1524.2 356.1 L1539.8 368.6 L1558.6 377.9 L1577.3 381.1 L1596.0 382.6"/>
<path fill="none" stroke="#000" stroke-width="2.2" d="M1628.8 334.2 L1639.8 337.3 L1649.1 353.0 L1646.0 362.3 L1636.6 359.2 L1628.8 343.6 L1628.8 334.2"/>
<path fill="none" stroke="#000" stroke-width="2.2" d="M79.0 526.0 L116.0 532.0 L125.0 528.0"/>
</g>
<ellipse cx="894.5" cy="466" rx="822.5" ry="411" fill="none" stroke="#000" stroke-width="2"/>
</svg>
<svg width="2000" height="961" viewBox="0 0 2000 961" style="position:absolute;left:0;top:0">
<defs><linearGradient id="g1" x1="0" y1="0" x2="0" y2="1">
<stop offset="0" stop-color="#ff7800"/>
<stop offset="0.22" stop-color="#ffac00"/>
<stop offset="0.42" stop-color="#ffdc00"/>
<stop offset="0.55" stop-color="#fcff00"/>
<stop offset="0.8" stop-color="#c0ff00"/>
<stop offset="1" stop-color="#88ff00"/>
</linearGradient>
<linearGradient id="g2" x1="0" y1="0" x2="0" y2="1">
<stop offset="0" stop-color="#88ff00"/>
<stop offset="0.08" stop-color="#40ff00"/>
<stop offset="0.17" stop-color="#10ff10"/>
<stop offset="0.33" stop-color="#00ff50"/>
<stop offset="0.58" stop-color="#00ffa0"/>
<stop offset="0.83" stop-color="#00ffd8"/>
<stop offset="1" stop-color="#00ffff"/>
</linearGradient>
<linearGradient id="g3" x1="0" y1="0" x2="0" y2="1">
<stop offset="0" stop-color="#00e8ff"/>
<stop offset="0.5" stop-color="#0080ff"/>
<stop offset="1" stop-color="#1800ff"/>
</linearGradient>
<linearGradient id="g4" x1="0" y1="0" x2="0" y2="1">
<stop offset="0" stop-color="#7000ff"/>
<stop offset="1" stop-color="#f000f0"/>
</linearGradient>
</defs>
<rect x="1745" y="232.5" width="48.5" height="210" fill="url(#g1)"/>
<rect x="1745" y="441.5" width="48.5" height="251" fill="url(#g2)"/>
<rect x="1745" y="692.5" width="48.5" height="83" fill="url(#g3)"/>
<rect x="1745" y="775.5" width="48.5" height="63" fill="url(#g4)"/>
<rect x="1745" y="838.5" width="48.5" height="22.5" fill="#ff0a8c"/>
<g stroke="#000" stroke-width="2" fill="none">
<rect x="1745" y="232.5" width="48.5" height="628.5"/>
<line x1="1745" y1="692.5" x2="1813" y2="692.5"/>
<line x1="1745" y1="775.5" x2="1813" y2="775.5"/>
<line x1="1745" y1="838.5" x2="1813" y2="838.5"/>
<line x1="1793.5" y1="232.5" x2="1813" y2="232.5"/>
<line x1="1793.5" y1="442.5" x2="1813" y2="442.5"/>
<line x1="1793.5" y1="651.5" x2="1813" y2="651.5"/>
<line x1="1793.5" y1="861" x2="1813" y2="861"/>
</g>
<g font-family="Liberation Sans, sans-serif" font-size="31" fill="#1a1a1a">
<text x="1822" y="244.5">300</text>
<text x="1822" y="455.5">200</text>
<text x="1822" y="665">100</text>
<text x="1822" y="704.5">80</text>
<text x="1822" y="789.5">40</text>
<text x="1822" y="850.5">10</text>
<text x="1822" y="873.5">0</text>
</g>
<text transform="translate(1914 874) rotate(-90)" font-family="Liberation Sans, sans-serif" font-size="30.7" fill="#1a1a1a">dissolved oxygen content [µmol/kg].</text>
</svg>
<div style="position:absolute;left:0;top:0;width:2000px;height:961px">
<svg width="2000" height="961" viewBox="0 0 2000 961" style="position:absolute;left:0;top:0">
<text x="395" y="928" font-family="Liberation Sans, sans-serif" font-weight="bold" font-size="31.6" fill="#1a1a1a" textLength="1044" lengthAdjust="spacing">Distribution of oxygen at about 300 – 500 m depth (σ<tspan dy="7">Θ</tspan><tspan dy="-7">=26.9 kg/m</tspan><tspan dy="-8">3</tspan><tspan dy="8">).</tspan></text>
</svg></div>
</body></html>
